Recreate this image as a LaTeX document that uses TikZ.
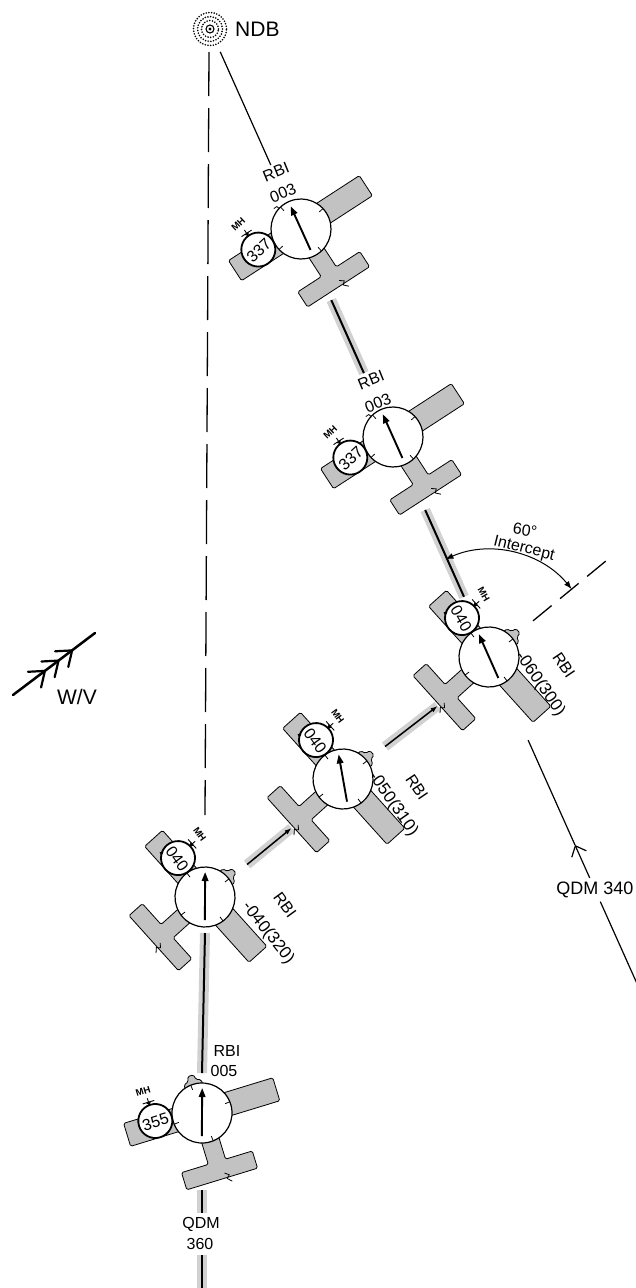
\documentclass[tikz,border=0pt]{standalone}
\usepackage{fontspec}
\setmainfont{Liberation Sans}
\usetikzlibrary{arrows.meta,calc}
\pgfdeclarelayer{background}
\pgfsetlayers{background,main}

% One aircraft with its ADF dial and heading (MH) dial.
% #1 centre coordinate, #2 rotation of the airframe, #3 MH reading,
% #4 extra tilt of the reading, #5 tick offset on the ADF card,
% #6 nose style (0 small mark, 1 cowling, 2 cowling and dial arrow)
\newcommand{\aircraft}[6]{%
  \begin{scope}[shift={(#1)}, rotate=#2]
    \path[planebody] (-78,13) -- (78,13) -- (78,-11) -- (9,-11) -- (9,-51)
      -- (37,-51) -- (37,-69) -- (-37,-69) -- (-37,-51) -- (-9,-51)
      -- (-9,-11) -- (-78,-11) -- cycle;
    \ifnum#6>0
      \path[planebody] (-9,25) -- (-9,32) -- (-4,34) -- (-3,39) -- (3,39)
        -- (4,34) -- (9,32) -- (9,25) -- cycle;
    \else
      \draw[line width=0.8pt] (104:30) -- (104:33) -- (110:34);
    \fi
    \draw[dial] (0,0) circle[radius=30];
    \foreach \a in {0,90,180,270}
      \draw[tickmark] ({\a+#5}:30) -- ({\a+#5}:25);
    \draw[line width=0.8pt] (4,-64) -- (8,-67) -- (5,-70) -- (9,-74);
    \draw[mhring] (-47,6) circle[radius=17];
    \ifnum#6=2
      \draw[line width=1.1pt, -{Latex[length=4pt,width=4pt]}]
        ($(-47,6)+(195:17)$) arc[start angle=195, end angle=222, radius=17];
    \fi
    \node[mhnum, rotate=#2+#4] (#1-mh) at (-47,5) {#3};
    \node[mhtag, rotate=#2+#4] (#1-tag) at (-50,38) {MH};
    \draw[line width=0.9pt] (-54,26) -- (-42,26) (-48,26) -- (-48,30);
    \fill (-48,22.5) -- (-50.5,26) -- (-45.5,26) -- cycle;
    \coordinate (#1-ahead) at (4,53);
    \coordinate (#1-tail) at (2,-71);
  \end{scope}
}

\begin{document}
\begin{tikzpicture}[x=1pt,y=1pt,
  planebody/.style={fill=black!24, draw=black, line width=0.8pt, rounded corners=1.5pt},
  dial/.style={fill=white, draw=black, line width=1.2pt},
  tickmark/.style={line width=0.8pt},
  mhring/.style={fill=white, draw=black, line width=1.8pt},
  mhnum/.style={inner sep=0pt, font=\fontsize{16}{16}\selectfont},
  mhtag/.style={inner sep=0pt, font=\bfseries\fontsize{9.5}{10}\selectfont},
  lbl/.style={inner sep=0pt, font=\fontsize{16}{16}\selectfont},
  numlbl/.style={inner sep=0pt, font=\fontsize{17}{17}\selectfont},
  biglbl/.style={inner sep=0pt, font=\fontsize{18}{18}\selectfont},
  hugelbl/.style={inner sep=0pt, font=\fontsize{21}{21}\selectfont},
  needle/.style={line width=1.9pt, -{Triangle[length=9pt,width=6.5pt]}},
  track/.style={line width=2pt},
  lighttrack/.style={line width=1.5pt},
  thinline/.style={line width=1.2pt},
  band/.style={line width=10pt, draw=black!18},
  dashline/.style={line width=1.3pt, dash pattern=on 44pt off 12pt},
  interdash/.style={line width=1.3pt, dash pattern=on 24pt off 11pt},
  barb/.style={line width=2.2pt, line cap=round},
]
\useasboundingbox (0,0) rectangle (635,-1288);
\begin{pgfonlayer}{background}
  \fill[white] (0,0) rectangle (635,-1288);
\end{pgfonlayer}

% beacon and aircraft positions
\coordinate (ndb) at (210,-29);
\coordinate (a1) at (301,-229);
\coordinate (a2) at (393,-437);
\coordinate (a3) at (489,-657);
\coordinate (a4) at (343,-779);
\coordinate (a5) at (205,-897);
\coordinate (a6) at (202,-1113);

% points on the inbound QDM line through the beacon
\coordinate (r0) at (220.2,-51.8);
\coordinate (r1) at (270.8,-165);
\coordinate (r2) at (331.3,-300.1);
\coordinate (r3) at (363.9,-373.1);
\coordinate (r4) at (425.2,-510);
\coordinate (r5) at (464,-596.8);
\coordinate (q1) at (528.1,-740.1);
\coordinate (qv) at (575,-845);
\coordinate (q2) at (589.7,-877.9);
\coordinate (q3) at (600.3,-901.6);
\coordinate (q4) at (636.7,-982.9);

% the QDM 360 line
\coordinate (d0) at (209,-52);
\coordinate (d1) at (205,-815);
\coordinate (v0) at (205,-933);
\coordinate (v1) at (202,-1073);
\coordinate (b0) at (202,-1190);
\coordinate (b1) at (202,-1213);
\coordinate (b2) at (202,-1255);
\coordinate (b3) at (202,-1290);

% aircraft
\aircraft{a1}{33}{337}{10}{10}{0}
\aircraft{a2}{33}{337}{10}{10}{0}
\aircraft{a3}{-48}{040}{-12}{-5}{2}
\aircraft{a4}{-48}{040}{-6}{-5}{2}
\aircraft{a5}{-48}{040}{-6}{-5}{2}
\aircraft{a6}{17}{355}{0}{5}{1}

% ADF needles pointing at the beacon
\foreach \p in {a1,a2,a3,a4,a5,a6}
  \draw[needle] ($(\p)!-23pt!(ndb)$) -- ($(\p)!25pt!(ndb)$);

% shaded track bands
\begin{pgfonlayer}{background}
  \draw[band] (r2) -- (r3);
  \draw[band] (r4) -- (r5);
  \draw[band] (a4-ahead) -- (a3-tail);
  \draw[band] (a5-ahead) -- (a4-tail);
  \draw[band] (v1) -- (v0);
  \draw[band] (b0) -- (b1);
  \draw[band] (b2) -- (b3);
\end{pgfonlayer}

% tracks
\draw[thinline] (r0) -- (r1);
\draw[track] (r2) -- (r3);
\draw[track] (r4) -- (r5);
\draw[lighttrack, -{Latex[length=7pt,width=5pt]}] (a4-ahead) -- (a3-tail);
\draw[lighttrack, -{Latex[length=7pt,width=5pt]}] (a5-ahead) -- (a4-tail);
\draw[track] (v1) -- (v0);
\draw[track] (b0) -- (b1);
\draw[track] (b2) -- (b3);
\draw[dashline] (d0) -- (d1);
\draw[thinline] (q1) -- (qv);
\draw[thinline, -{Straight Barb[length=9pt,width=16pt]}] (q2) -- (qv);
\draw[thinline] (q3) -- (q4);

% 60 degree intercept
\coordinate (i0) at ($(a3)+(39.4:57)$);
\coordinate (i1) at ($(a3)+(39.4:162)$);
\draw[interdash] (i0) -- (i1);
\draw[line width=1pt, {Latex[length=8pt,width=6pt]}-{Latex[length=8pt,width=6pt]}]
  ($(a3)+(114:107)$) arc[start angle=114, end angle=39.4, radius=107];
\node[lbl, rotate=-8] (ang) at (525,-530) {60°};
\node[lbl, rotate=-14] (intc) at (524,-549) {Intercept};

% beacon symbol
\node[circle, draw, line width=1.1pt, minimum size=8pt, inner sep=0pt] (ndbc) at (ndb) {};
\fill (ndb) circle[radius=1.6];
\foreach \r in {8.5,12.5,16.5}
  \draw[line width=1.8pt, dash pattern=on 0pt off 2.7pt, line cap=round] (ndb) circle[radius=\r];
\node[hugelbl, anchor=west] (ndblbl) at (235,-29) {NDB};

% bearing labels
\node[lbl, rotate=22] (rbi1) at (276,-172) {RBI};
\node[lbl, rotate=22] (rbi1v) at (283,-193) {003};
\node[lbl, rotate=22] (rbi2) at (371,-380) {RBI};
\node[lbl, rotate=22] (rbi2v) at (378,-403) {003};
\node[lbl, rotate=-56] (rbi3) at (564,-665) {RBI};
\node[numlbl, rotate=-55] (rbi3v) at (540,-684) {-060(300)};
\node[lbl, rotate=-56] (rbi4) at (417,-787) {RBI};
\node[numlbl, rotate=-55] (rbi4v) at (393,-804) {-050(310)};
\node[lbl, rotate=-54] (rbi5) at (285,-905) {RBI};
\node[numlbl, rotate=-52] (rbi5v) at (268,-933) {-040(320)};
\node[lbl] (rbi6) at (227,-1051) {RBI};
\node[lbl] (rbi6v) at (224,-1071) {005};
\node[lbl] (qdm6) at (201,-1224) {QDM};
\node[lbl] (qdm6v) at (200,-1244) {360};
\node[biglbl] (qdm3) at (595,-890) {QDM 340};

% wind velocity symbol
\coordinate (w0) at (13,-695);
\coordinate (w1) at (95,-633);
\draw[line width=2.5pt, line cap=round] (w0) -- (w1);
\coordinate (f1) at (72.1,-650.4);
\coordinate (f2) at (58.5,-660.6);
\coordinate (f3) at (44.9,-670.9);
\foreach \f in {f1,f2,f3}
  \draw[barb] ($(\f)+(183:17)$) -- (\f) -- ($(\f)+(257:17)$);
\node[hugelbl] (wv) at (77,-697) {W/V};
\end{tikzpicture}
\end{document}
